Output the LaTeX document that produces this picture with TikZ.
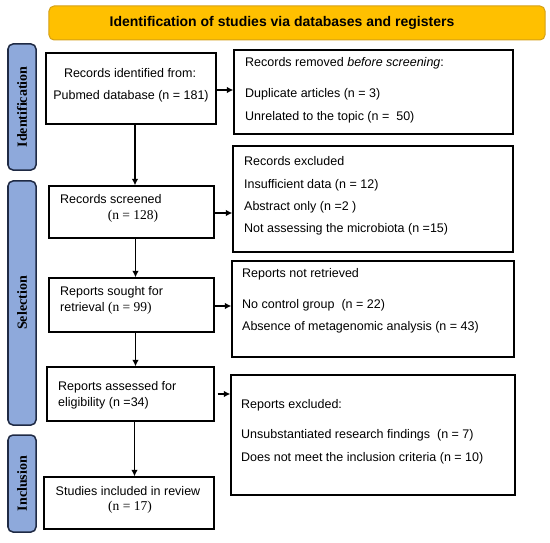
\documentclass[tikz,border=0pt]{standalone}
\usepackage{fontspec}
\setmainfont{Liberation Sans}
\newfontfamily\tnr{Liberation Serif}
\usetikzlibrary{arrows.meta}
\definecolor{titlegold}{HTML}{FFC000}
\definecolor{titleedge}{HTML}{D4A017}
\definecolor{phaseblue}{HTML}{8EA9DB}
\definecolor{phaseedge}{HTML}{1F2A44}

\begin{document}
\begin{tikzpicture}[x=1bp,y=-1bp,
  box/.style={draw,line width=1.2bp,rectangle,inner sep=0pt},
  txt/.style={anchor=west,inner sep=0pt,font=\fontsize{12.5bp}{14bp}\selectfont},
  ctxt/.style={inner sep=0pt,font=\fontsize{12.5bp}{14bp}\selectfont},
  nser/.style={inner sep=0pt,font=\tnr\fontsize{13.5bp}{15bp}\selectfont},
  phase/.style={draw=phaseedge,line width=1.5bp,fill=phaseblue,rounded corners=5bp,
    rotate=90,minimum height=28bp,inner sep=0pt,font=\tnr\bfseries\fontsize{14bp}{16bp}\selectfont},
  arr/.style={-{Latex[length=6.5bp,width=6.5bp]},line width=1.3bp}]
\useasboundingbox (0,0) rectangle (550,543);

  % title bar
  \draw (297,23) node[draw=titleedge,line width=1bp,fill=titlegold,rounded corners=5bp,
    minimum width=496bp,minimum height=34bp] (title) {};
  \draw (282,23) node[font=\bfseries\fontsize{14bp}{16bp}\selectfont] (titletext)
    {Identification of studies via databases and registers};

  % phases
  \draw (22,107) node[phase,minimum width=126bp] (pident) {Identification};
  \draw (22,303) node[phase,minimum width=244bp] (pselect) {Selection};
  \draw (22,483.5) node[phase,minimum width=97bp] (pincl) {Inclusion};

  % left column
  \draw (131,88.5) node[box,minimum width=170bp,minimum height=71bp] (ident) {};
  \draw (131.5,212) node[box,minimum width=165bp,minimum height=52bp] (screen) {};
  \draw (131.5,305) node[box,minimum width=165bp,minimum height=54bp] (sought) {};
  \draw (130.5,394) node[box,minimum width=167bp,minimum height=54bp] (assess) {};
  \draw (129,503) node[box,minimum width=170bp,minimum height=52bp] (incl) {};

  % right column
  \draw (373.5,92) node[box,minimum width=279bp,minimum height=84bp] (removed) {};
  \draw (373,199) node[box,minimum width=280bp,minimum height=106bp] (excl) {};
  \draw (373,309) node[box,minimum width=282bp,minimum height=96bp] (notret) {};
  \draw (373,435) node[box,minimum width=284bp,minimum height=120bp] (rexcl) {};

  % texts
  \draw (130,73) node[ctxt] (identa) {Records identified from:}
  ++(1,23) node[ctxt] (identb) {Pubmed database (n = 181)};

  \draw (245,63) node[txt] (rema) {Records removed \textit{before screening}:}
  ++(0,31) node[txt] (remb) {Duplicate articles (n = 3)}
  ++(0,23) node[txt] (remc) {Unrelated to the topic (n =\ \ 50)};

  \draw (60,199) node[txt] (scra) {Records screened};
  \draw (133,216) node[nser] (scrb) {(n = 128)};

  \draw (244,161) node[txt] (exa) {Records excluded}
  ++(0,24) node[txt] (exb) {Insufficient data (n = 12)}
  ++(0,22) node[txt] (exc) {Abstract only (n =2 )}
  ++(0,22) node[txt] (exd) {Not assessing the microbiota (n =15)};

  \draw (60,292) node[txt] (soa) {Reports sought for}
  ++(0,16) node[txt] (sob) {retrieval {\tnr\fontsize{13.5bp}{15bp}\selectfont(n = 99)}};

  \draw (242,274) node[txt] (nra) {Reports not retrieved}
  ++(0,31) node[txt] (nrb) {No control group\ \ (n = 22)}
  ++(0,22) node[txt] (nrc) {Absence of metagenomic analysis (n = 43)};

  \draw (58,387) node[txt] (asa) {Reports assessed for}
  ++(0,16) node[txt] (asb) {eligibility (n =34)};

  \draw (241,405) node[txt] (rxa) {Reports excluded:}
  ++(0,30) node[txt] (rxb) {Unsubstantiated research findings\ \ (n = 7)}
  ++(0,23) node[txt] (rxc) {Does not meet the inclusion criteria (n = 10)};

  \draw (128,491) node[ctxt] (inca) {Studies included in review};
  \draw (130,507) node[nser] (incb) {(n = 17)};

  % arrows
  \draw[arr] ([xshift=4bp]ident.south) -- ([xshift=4bp]ident.south |- screen.north);
  \draw[arr] ([xshift=4bp]screen.south) -- ([xshift=4bp]screen.south |- sought.north);
  \draw[arr] ([xshift=4bp]sought.south) -- ([xshift=4bp]sought.south |- assess.north);
  \draw[arr] ([xshift=4bp]assess.south) -- ([xshift=4bp]assess.south |- incl.north);

  \draw[arr] ([yshift=-1.5bp]ident.east) -- ([yshift=-1.5bp]ident.east -| removed.west);
  \draw[arr] ([yshift=-1bp]screen.east) -- ([yshift=-1bp]screen.east -| excl.west);
  \draw[arr] ([yshift=-1bp]sought.east) -- ([yshift=-1bp]sought.east -| notret.west);
  \draw[arr] ([xshift=3bp]assess.east) -- (assess.east -| rexcl.west);

\end{tikzpicture}
\end{document}
